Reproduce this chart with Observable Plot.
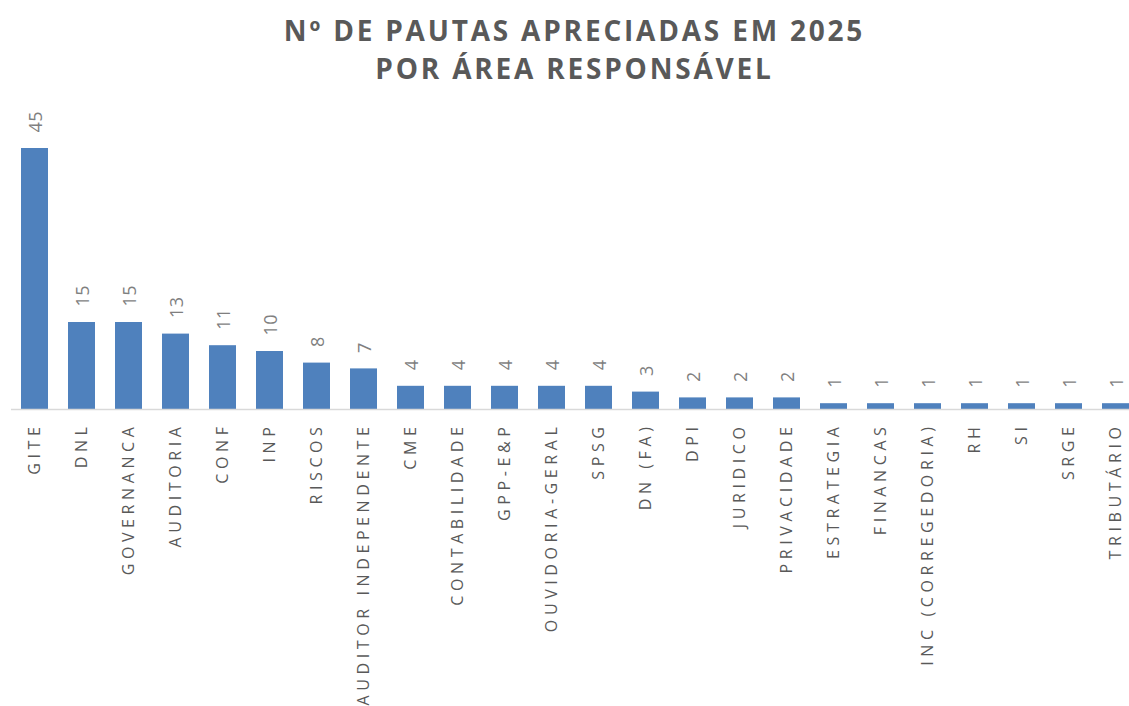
<!DOCTYPE html>
<html>
<head>
<meta charset="utf-8">
<script src="https://cdn.jsdelivr.net/npm/d3@7"></script>
<script src="https://cdn.jsdelivr.net/npm/@observablehq/plot@0.6"></script>
<style>
  html, body { margin: 0; padding: 0; background: #fff; overflow: hidden; width: 1129px; height: 706px; }
  #title { height: 100px; box-sizing: border-box; padding-top: 11px; padding-left: 20px; text-align: center;
    font-family: "Open Sans", sans-serif; font-weight: 700; font-size: 28px; line-height: 38px;
    letter-spacing: 2.8px; color: #595959; }
  #chart svg { display: block; overflow: hidden; }
  g[aria-label="x-axis tick label"] text { letter-spacing: 4.6px; }
  g.vals text { letter-spacing: 0.5px; }
</style>
</head>
<body>
<div id="title">Nº DE PAUTAS APRECIADAS EM 2025<br>POR ÁREA RESPONSÁVEL</div>
<div id="chart"></div>
<script>
const areas = ["GITE", "DNL", "GOVERNANCA", "AUDITORIA", "CONF", "INP", "RISCOS", "AUDITOR INDEPENDENTE",
  "CME", "CONTABILIDADE", "GPP-E&P", "OUVIDORIA-GERAL", "SPSG", "DN (FA)", "DPI", "JURIDICO",
  "PRIVACIDADE", "ESTRATEGIA", "FINANCAS", "INC (CORREGEDORIA)", "RH", "SI", "SRGE", "TRIBUTÁRIO"];
const pautas = [45, 15, 15, 13, 11, 10, 8, 7, 4, 4, 4, 4, 4, 3, 2, 2, 2, 1, 1, 1, 1, 1, 1, 1];

const data = areas.map((a, i) => ({area: a, n: pautas[i]}));

const chart = Plot.plot({
  width: 1129,
  height: 606,
  marginTop: 48,
  marginBottom: 297,
  marginLeft: 11,
  marginRight: 0,
  style: {fontFamily: "'Open Sans', sans-serif", background: "#fff"},
  x: {type: "band", domain: areas, range: [10, 1140], paddingInner: 0.43, paddingOuter: 0.215, align: 0.5, axis: null},
  y: {domain: [0, 45], axis: null},
  marks: [
    Plot.barY(data, {x: "area", y: "n", fill: "#4f81bd"}),
    Plot.ruleY([0], {stroke: "#d9d9d9", strokeWidth: 1.5}),
    Plot.text(data, {x: "area", y: "n", text: d => String(d.n), rotate: -90, textAnchor: "start",
      dx: 1.5, dy: -16, fill: "#7f7f7f", fontSize: 18, className: "vals"}),
    Plot.axisX({tickRotate: -90, tickSize: 0, tickPadding: 13, fontSize: 16, fill: "#595959", label: null})
  ]
});
document.getElementById("chart").appendChild(chart);
</script>
</body>
</html>
